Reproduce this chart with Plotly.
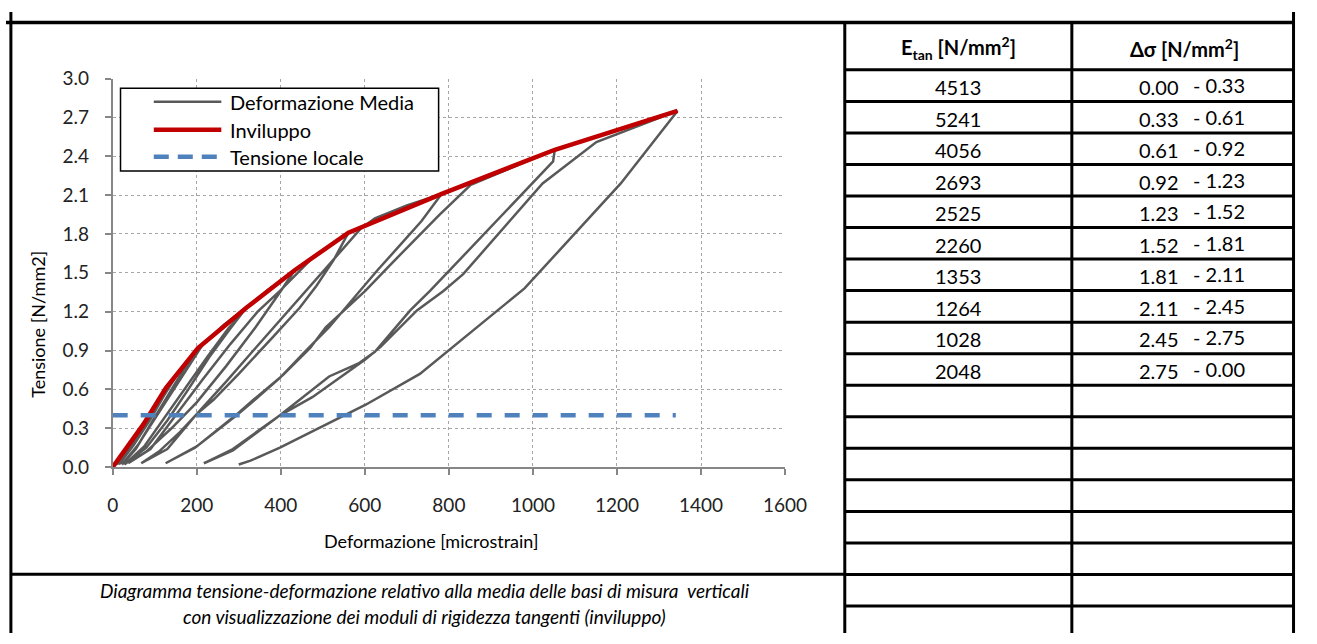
import plotly.graph_objects as go

W, H = 1317, 644

# Envelope (inviluppo) vertices: strain [microstrain], stress [N/mm2]
env_strain = [0, 73, 126.5, 203, 318, 433, 561, 783, 1052, 1344]
env_stress = [0.00, 0.33, 0.61, 0.92, 1.23, 1.52, 1.81, 2.11, 2.45, 2.75]

# Tangent stiffness moduli and stress ranges
e_tan = [4513, 5241, 4056, 2693, 2525, 2260, 1353, 1264, 1028, 2048]
ds_from = [0.00, 0.33, 0.61, 0.92, 1.23, 1.52, 1.81, 2.11, 2.45, 2.75]
ds_to = [0.33, 0.61, 0.92, 1.23, 1.52, 1.81, 2.11, 2.45, 2.75, 0.00]

# Local stress level
local_stress = [0.40, 0.40]
local_strain = [0, 1340]

# Mean of the vertical gauges: loading / unloading cycles
avg_strain = [
    0, 20, 45, 73,                                   # load 1
    55, 30, 10,                                      # unload 1
    40, 70, 95, 126.5,                               # reload 2
    100, 70, 40, 15,                                 # unload 2
    50, 90, 120, 160, 203,                           # reload 3
    170, 130, 90, 55, 22,                            # unload 3
    60, 100, 140, 185, 215, 265, 318,                # reload 4
    280, 230, 180, 130, 80, 28,                      # unload 4
    75, 120, 170, 225, 275, 325, 370, 433,           # reload 5
    400, 340, 270, 200, 140, 80, 37,                 # unload 5
    90, 150, 215, 280, 345, 398, 440, 480, 561,      # reload 6
    526, 485, 445, 380, 300, 240, 200, 160, 110, 68,               # unload 6
    130, 200, 270, 340, 410, 470, 530, 590, 624, 700, 783,        # reload 7
    735, 680, 630, 588, 515, 460, 398, 328, 295, 196, 126,        # unload 7
    200, 300, 335, 405, 470, 507, 601, 660, 711, 778, 852, 957, 1046, 1052,  # reload 8
    1048, 755, 708, 624, 585, 515, 398, 286, 217,                 # unload 8
    286, 398, 475, 601, 638, 724, 787, 834, 1023, 1151, 1344,     # reload 9
    1209, 980, 731, 601, 398, 328, 300,                           # unload 9
]
avg_stress = [
    0.00, 0.09, 0.20, 0.33,
    0.23, 0.10, 0.02,
    0.16, 0.31, 0.44, 0.61,
    0.47, 0.29, 0.13, 0.02,
    0.17, 0.37, 0.54, 0.75, 0.92,
    0.76, 0.55, 0.33, 0.14, 0.02,
    0.17, 0.37, 0.58, 0.80, 0.95, 1.10, 1.23,
    1.07, 0.85, 0.60, 0.36, 0.15, 0.02,
    0.16, 0.37, 0.60, 0.85, 1.07, 1.25, 1.37, 1.52,
    1.36, 1.08, 0.78, 0.50, 0.30, 0.12, 0.03,
    0.14, 0.40, 0.68, 0.95, 1.20, 1.36, 1.50, 1.63, 1.81,
    1.60, 1.40, 1.23, 1.00, 0.72, 0.52, 0.41, 0.27, 0.12, 0.03,
    0.14, 0.41, 0.66, 0.92, 1.18, 1.40, 1.62, 1.84, 1.92, 2.02, 2.11,
    1.90, 1.70, 1.52, 1.36, 1.08, 0.90, 0.69, 0.49, 0.40, 0.15, 0.03,
    0.16, 0.42, 0.52, 0.71, 0.92, 1.08, 1.36, 1.56, 1.73, 1.95, 2.18, 2.32, 2.44, 2.45,
    2.36, 1.36, 1.21, 0.89, 0.80, 0.70, 0.40, 0.13, 0.03,
    0.14, 0.40, 0.54, 0.83, 0.93, 1.21, 1.36, 1.49, 2.19, 2.51, 2.75,
    2.19, 1.38, 0.72, 0.48, 0.15, 0.05, 0.02,
]

GRAY = "#595959"
RED = "#C00000"
BLUE = "#4F81BD"
FONT = "Lato"


def fx(px):
    return px / W


def fy(py):
    return 1 - py / H


fig = go.Figure()
fig.add_trace(go.Scatter(x=avg_strain, y=avg_stress, mode="lines",
                         line=dict(color=GRAY, width=2.5), name="Deformazione Media"))
fig.add_trace(go.Scatter(x=env_strain, y=env_stress, mode="lines",
                         line=dict(color=RED, width=4.5), name="Inviluppo"))
fig.add_trace(go.Scatter(x=local_strain, y=local_stress, mode="lines",
                         line=dict(color=BLUE, width=4.5, dash="15px,13px"),
                         name="Tensione locale"))

axis_common = dict(
    showgrid=True, gridcolor="#A6A6A6", griddash="dot", gridwidth=1,
    showline=True, linecolor="#868686", linewidth=1.5,
    ticks="outside", ticklen=6, tickcolor="#868686", tickwidth=1.5,
    zeroline=False, tickfont=dict(family=FONT, size=19, color="#222"),
    fixedrange=True,
)
fig.update_xaxes(domain=[fx(109), fx(796)], range=[0, 1600], tick0=0, dtick=200,
                 ticklabelstandoff=14, **axis_common)
fig.update_yaxes(domain=[fy(472), fy(69)], range=[0, 3], tick0=0, dtick=0.3,
                 tickformat=".1f", ticklabelstandoff=12, **axis_common)

shapes = []
ann = []


def line(x0, y0, x1, y1, w=3, color="black", dash=None):
    d = dict(type="line", xref="paper", yref="paper",
             x0=fx(x0), y0=fy(y0), x1=fx(x1), y1=fy(y1),
             line=dict(color=color, width=w))
    if dash:
        d["line"]["dash"] = dash
    shapes.append(d)


def text(x, y, s, size=20, xanchor="center", italic=False, bold=False, color="black"):
    if bold:
        s = "<b>" + s + "</b>"
    if italic:
        s = "<i>" + s + "</i>"
    ann.append(dict(xref="paper", yref="paper", x=fx(x), y=fy(y), text=s,
                    showarrow=False, xanchor=xanchor, yanchor="middle",
                    font=dict(family=FONT, size=size, color=color)))


# Outer frame and table grid
line(0, 11, W, 11, w=3.5)
line(5, 0, 5, H)
line(1315.5, 0, 1315.5, H)
line(857, 11, 857, H)
line(1089, 11, 1089, H)
line(5, 583, 857, 583)
row_top = 60
row_h = (616 - 60) / 17
for i in range(18):
    y = row_top + i * row_h
    line(857, y, W, y)

# Table header
text(973, 37, "E<sub>tan</sub> [N/mm<sup>2</sup>]", size=20, bold=True)
text(1204, 37, "Δσ [N/mm<sup>2</sup>]", size=20, bold=True)

# Table rows
for i, (e, a, b) in enumerate(zip(e_tan, ds_from, ds_to)):
    yc = row_top + (i + 0.5) * row_h + 1.5
    text(973, yc, f"{e}", size=20)
    text(1201, yc, f"{a:.2f}", size=20, xanchor="right")
    text(1211, yc - 2, f"- {b:.2f}", size=20, xanchor="left")

# Axis titles
ann.append(dict(xref="paper", yref="paper", x=fx(33), y=fy(324), text="Tensione [N/mm2]",
                showarrow=False, textangle=-90, xanchor="center", yanchor="middle",
                font=dict(family=FONT, size=18, color="black")))
text(434, 549, "Deformazione [microstrain]", size=18)

# Caption
text(428, 600, "Diagramma tensione-deformazione relativo alla media delle basi di misura  verticali",
     size=19, italic=True)
text(428, 627, "con visualizzazione dei moduli di rigidezza tangenti (inviluppo)",
     size=19, italic=True)

# Legend box
shapes.append(dict(type="rect", xref="paper", yref="paper",
                   x0=fx(117), y0=fy(165), x1=fx(442), y1=fy(79),
                   line=dict(color="black", width=1.5), fillcolor="white", layer="above"))
legend_items = [("Deformazione Media", GRAY, 2.5, None, 93),
                ("Inviluppo", RED, 4.5, None, 122),
                ("Tensione locale", BLUE, 4.5, "15px,9px", 150)]
for label, col, w, dash, yy in legend_items:
    line(151, yy, 220, yy, w=w, color=col, dash=dash)
    text(227, yy, label, size=20, xanchor="left")

fig.update_layout(width=W, height=H, margin=dict(l=0, r=0, t=0, b=0),
                  paper_bgcolor="white", plot_bgcolor="white", showlegend=False,
                  shapes=shapes, annotations=ann,
                  font=dict(family=FONT, color="black"))

fig.write_html("out.html")
